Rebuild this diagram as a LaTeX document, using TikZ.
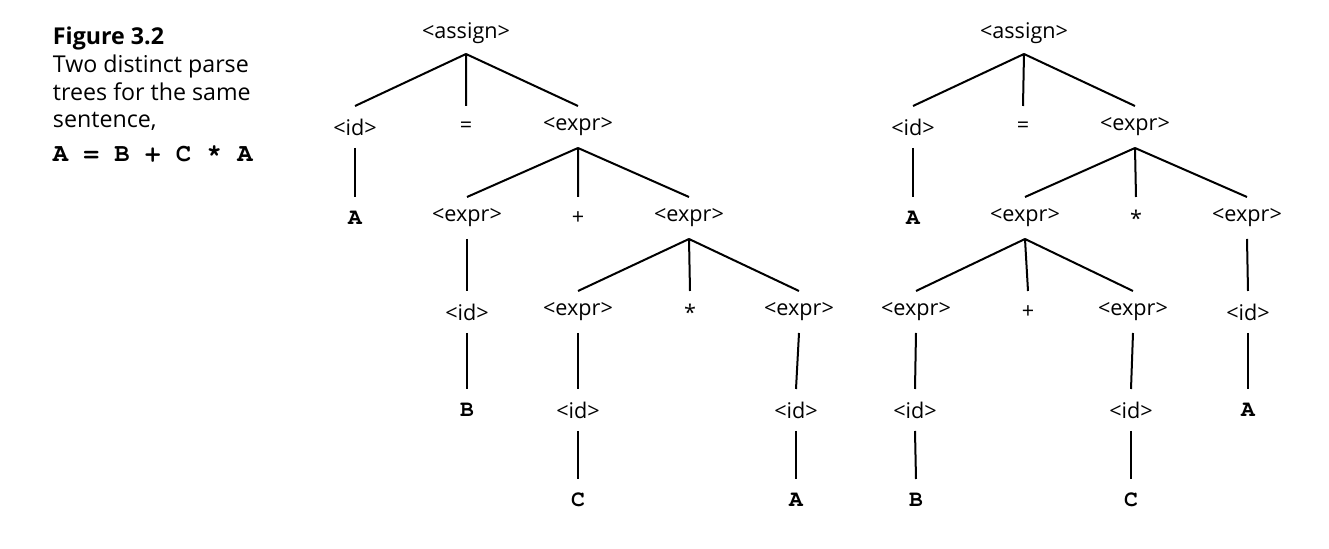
\documentclass[tikz,border=0pt]{standalone}
\usepackage{fontspec}
\setmainfont{Open Sans}
\setmonofont{texgyrecursor}[Extension=.otf, UprightFont=*-regular, BoldFont=*-bold]
\usepackage{tikz}

\begin{document}
\begin{tikzpicture}[x=0.5pt,y=-0.5pt,
  nt/.style={inner sep=0pt, minimum height=20pt, font=\fontsize{10.8}{12}\selectfont},
  tm/.style={inner sep=0pt, minimum height=20pt, font=\fontsize{11.5}{12}\selectfont\ttfamily\bfseries},
  captext/.style={inner sep=0pt, anchor=base west, font=\fontsize{11.6}{14}\selectfont},
  every path/.style={line width=1pt}]
\useasboundingbox (0,0) rectangle (1329,549);
% caption
\node (title) [captext] at (52,45) {\textbf{Figure 3.2}};
\node (capa) [captext] at (52,73) {Two distinct parse};
\node (capb) [captext] at (52,101) {trees for the same};
\node (capc) [captext] at (52,128) {sentence,};
\node (sent) [captext, font=\fontsize{12.8}{14}\selectfont\ttfamily\bfseries] at (52,162) {A = B + C * A};
% left tree: B + (C * A)
\node (la) [nt] at (466,33) {<assign>};
\node (lid) [nt] at (355,127) {<id>};
\node (leq) [nt] at (466,127) {=};
\node (lex) [nt] at (578,127) {<expr>};
\node (lA) [tm] at (355,218) {A};
\node (lex1) [nt] at (467,218) {<expr>};
\node (lplus) [nt] at (578,218) {+};
\node (lex2) [nt] at (689,218) {<expr>};
\node (lid1) [nt] at (467,312) {<id>};
\node (lex3) [nt] at (578,312) {<expr>};
\node (ltimes) [nt] at (690,312) {*};
\node (lex4) [nt] at (799,312) {<expr>};
\node (lB) [tm] at (467,410) {B};
\node (lid2) [nt] at (578,410) {<id>};
\node (lid3) [nt] at (796,410) {<id>};
\node (lC) [tm] at (578,500) {C};
\node (lA2) [tm] at (796,500) {A};
\draw (la.south) -- (lid.north) (la.south) -- (leq.north) (la.south) -- (lex.north);
\draw (lid.south) -- (lA.north);
\draw (lex.south) -- (lex1.north) (lex.south) -- (lplus.north) (lex.south) -- (lex2.north);
\draw (lex1.south) -- (lid1.north);
\draw (lid1.south) -- (lB.north);
\draw (lex2.south) -- (lex3.north) (lex2.south) -- (ltimes.north) (lex2.south) -- (lex4.north);
\draw (lex3.south) -- (lid2.north);
\draw (lid2.south) -- (lC.north);
\draw (lex4.south) -- (lid3.north);
\draw (lid3.south) -- (lA2.north);
% right tree: (B + C) * A
\node (ra) [nt] at (1024,33) {<assign>};
\node (rid) [nt] at (913,127) {<id>};
\node (req) [nt] at (1023,127) {=};
\node (rex) [nt] at (1135,127) {<expr>};
\node (rA) [tm] at (913,218) {A};
\node (rex1) [nt] at (1025,218) {<expr>};
\node (rtimes) [nt] at (1136,218) {*};
\node (rex2) [nt] at (1247,218) {<expr>};
\node (rex3) [nt] at (916,312) {<expr>};
\node (rplus) [nt] at (1028,312) {+};
\node (rex4) [nt] at (1133,312) {<expr>};
\node (rid1) [nt] at (1248,312) {<id>};
\node (rid2) [nt] at (915,410) {<id>};
\node (rid3) [nt] at (1131,410) {<id>};
\node (rA2) [tm] at (1248,410) {A};
\node (rB) [tm] at (916,500) {B};
\node (rC) [tm] at (1131,500) {C};
\draw (ra.south) -- (rid.north) (ra.south) -- (req.north) (ra.south) -- (rex.north);
\draw (rid.south) -- (rA.north);
\draw (rex.south) -- (rex1.north) (rex.south) -- (rtimes.north) (rex.south) -- (rex2.north);
\draw (rex1.south) -- (rex3.north) (rex1.south) -- (rplus.north) (rex1.south) -- (rex4.north);
\draw (rex2.south) -- (rid1.north);
\draw (rid1.south) -- (rA2.north);
\draw (rex3.south) -- (rid2.north);
\draw (rid2.south) -- (rB.north);
\draw (rex4.south) -- (rid3.north);
\draw (rid3.south) -- (rC.north);
\end{tikzpicture}
\end{document}
